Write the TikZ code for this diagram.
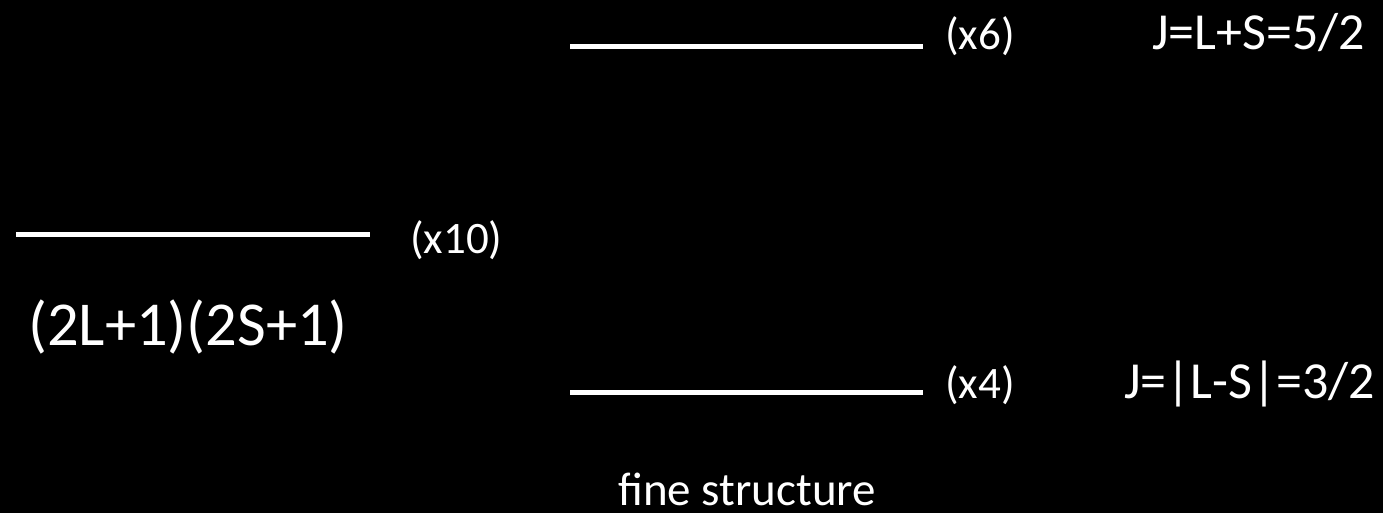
\documentclass[tikz,border=0pt]{standalone}
\usepackage{fontspec}
\setmainfont{Carlito}
\begin{document}
\begin{tikzpicture}[x=1pt,y=-1pt,
  level/.style={white,line width=5pt},
  lbl/.style={text=white,inner sep=0pt,anchor=base west,font=\fontsize{45}{50}\selectfont},
  jlbl/.style={text=white,inner sep=0pt,anchor=base west,font=\fontsize{52}{58}\selectfont},
  big/.style={text=white,inner sep=0pt,anchor=base west,font=\fontsize{62.5}{70}\selectfont}]
\fill[black] (0,0) rectangle (1383,513);
\useasboundingbox (0,0) rectangle (1383,513);
\coordinate (t1) at (570,47); \coordinate (t2) at (923,47);
\coordinate (l1) at (16,234); \coordinate (l2) at (370,234);
\coordinate (b1) at (570,392); \coordinate (b2) at (923,392);
\draw[level] (t1) -- (t2);
\draw[level] (l1) -- (l2);
\draw[level] (b1) -- (b2);
\node[lbl] (x6) at (945,50) {(x6)};
\node[lbl] (x10) at (410,253) {(x10)};
\node[lbl] (x4) at (945,398) {(x4)};
\node[jlbl] (j1) at (1152,50) {J=L+S=5/2};
\node[jlbl] (j2) at (1124,398) {J=|L-S|=3/2};
\node[big] (deg) at (28,345) {(2L+1)(2S+1)};
\node[lbl,font=\fontsize{47}{52}\selectfont] (fs) at (618,505) {fine structure};
\end{tikzpicture}
\end{document}
